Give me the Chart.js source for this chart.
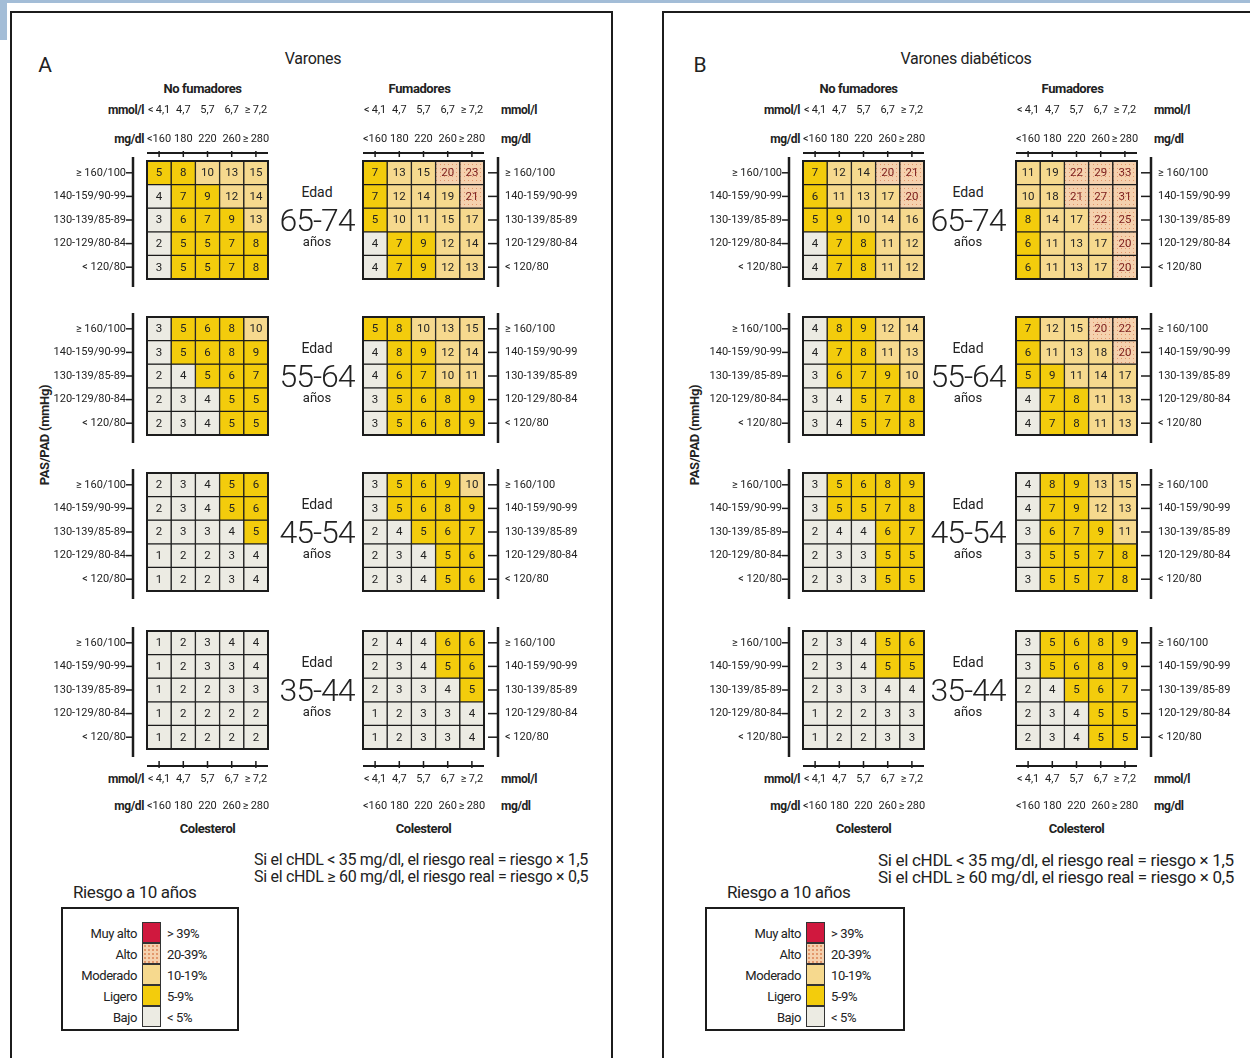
<!DOCTYPE html>
<html>
<head>
<meta charset="utf-8">
<script src="https://cdn.jsdelivr.net/npm/chart.js@4.4.0/dist/chart.umd.min.js"></script>
<style>
  body { margin: 0; width: 1250px; height: 1058px; overflow: hidden; position: relative; background: #fff;
         font-family: "Liberation Sans Narrow", Roboto, "Liberation Sans", sans-serif; color: #222; }
  .t { position: absolute; white-space: nowrap; line-height: 1; }
  .c { transform: translate(-50%, -50%); }
  .r { transform: translate(-100%, -50%); }
  .l { transform: translate(0, -50%); }
  canvas { position: absolute; }
  .frame { position: absolute; box-sizing: border-box; border: 2px solid #1c1c1c; border-bottom: none; }
  .box { position: absolute; box-sizing: border-box; border: 2px solid #1c1c1c; }
  .sw { position: absolute; box-sizing: border-box; border: 1px solid #333; }
</style>
</head>
<body>
<div style="position:absolute;left:0;top:0;width:1250px;height:3px;background:#a3bdd7"></div>
<div style="position:absolute;left:0;top:0;width:7px;height:40px;background:#a3bdd7"></div>
<div class="frame" style="left:10px;top:11px;width:603px;height:1100px"></div>
<div class="frame" style="left:662px;top:11px;width:700px;height:1100px"></div>

<script>
// ---- data ----
const ageGroups = ['65-74', '55-64', '45-54', '35-44'];
// blood pressure rows, top to bottom
const bpLabels = ['≥ 160/100', '140-159/90-99', '130-139/85-89', '120-129/80-84', '< 120/80'];
const cholMmol = ['<\u20094,1', '4,7', '5,7', '6,7', '≥\u20097,2'];
const cholMgdl = ['<160', '180', '220', '260', '≥\u2009280'];
const riskLevels = ['Muy alto', 'Alto', 'Moderado', 'Ligero', 'Bajo'];
const riskRanges = ['> 39%', '20-39%', '10-19%', '5-9%', '< 5%'];

// A - Varones, no fumadores (by age group, rows top to bottom)
const varonesNoFumadores = [
  [[5, 8, 10, 13, 15], [4, 7, 9, 12, 14], [3, 6, 7, 9, 13], [2, 5, 5, 7, 8], [3, 5, 5, 7, 8]],
  [[3, 5, 6, 8, 10], [3, 5, 6, 8, 9], [2, 4, 5, 6, 7], [2, 3, 4, 5, 5], [2, 3, 4, 5, 5]],
  [[2, 3, 4, 5, 6], [2, 3, 4, 5, 6], [2, 3, 3, 4, 5], [1, 2, 2, 3, 4], [1, 2, 2, 3, 4]],
  [[1, 2, 3, 4, 4], [1, 2, 3, 3, 4], [1, 2, 2, 3, 3], [1, 2, 2, 2, 2], [1, 2, 2, 2, 2]]
];
// A - Varones, fumadores
const varonesFumadores = [
  [[7, 13, 15, 20, 23], [7, 12, 14, 19, 21], [5, 10, 11, 15, 17], [4, 7, 9, 12, 14], [4, 7, 9, 12, 13]],
  [[5, 8, 10, 13, 15], [4, 8, 9, 12, 14], [4, 6, 7, 10, 11], [3, 5, 6, 8, 9], [3, 5, 6, 8, 9]],
  [[3, 5, 6, 9, 10], [3, 5, 6, 8, 9], [2, 4, 5, 6, 7], [2, 3, 4, 5, 6], [2, 3, 4, 5, 6]],
  [[2, 4, 4, 6, 6], [2, 3, 4, 5, 6], [2, 3, 3, 4, 5], [1, 2, 3, 3, 4], [1, 2, 3, 3, 4]]
];
// B - Varones diabéticos, no fumadores
const diabeticosNoFumadores = [
  [[7, 12, 14, 20, 21], [6, 11, 13, 17, 20], [5, 9, 10, 14, 16], [4, 7, 8, 11, 12], [4, 7, 8, 11, 12]],
  [[4, 8, 9, 12, 14], [4, 7, 8, 11, 13], [3, 6, 7, 9, 10], [3, 4, 5, 7, 8], [3, 4, 5, 7, 8]],
  [[3, 5, 6, 8, 9], [3, 5, 5, 7, 8], [2, 4, 4, 6, 7], [2, 3, 3, 5, 5], [2, 3, 3, 5, 5]],
  [[2, 3, 4, 5, 6], [2, 3, 4, 5, 5], [2, 3, 3, 4, 4], [1, 2, 2, 3, 3], [1, 2, 2, 3, 3]]
];
// B - Varones diabéticos, fumadores
const diabeticosFumadores = [
  [[11, 19, 22, 29, 33], [10, 18, 21, 27, 31], [8, 14, 17, 22, 25], [6, 11, 13, 17, 20], [6, 11, 13, 17, 20]],
  [[7, 12, 15, 20, 22], [6, 11, 13, 18, 20], [5, 9, 11, 14, 17], [4, 7, 8, 11, 13], [4, 7, 8, 11, 13]],
  [[4, 8, 9, 13, 15], [4, 7, 9, 12, 13], [3, 6, 7, 9, 11], [3, 5, 5, 7, 8], [3, 5, 5, 7, 8]],
  [[3, 5, 6, 8, 9], [3, 5, 6, 8, 9], [2, 4, 5, 6, 7], [2, 3, 4, 5, 5], [2, 3, 4, 5, 5]]
];

// ---- layout ----
const FONT = '"Liberation Sans Narrow", Roboto, "Liberation Sans", sans-serif';
const gridTops = [161, 317, 473, 631];
const GRID_W = 121, GRID_H = 118;
const AX = 100, PAD = 12, XH = 70;

// colours for the risk bands
const C_BAJO = '#ecebe3', C_LIGERO = '#f3cc0c', C_MOD = '#f6d98e', C_ALTO = '#f5d1ae', C_MUY = '#d0183e';

function altoPattern() {
  const p = document.createElement('canvas');
  p.width = 4; p.height = 4;
  const c = p.getContext('2d');
  c.fillStyle = C_ALTO; c.fillRect(0, 0, 4, 4);
  c.fillStyle = '#e2966a'; c.fillRect(1, 1, 1, 1);
  return c.createPattern(p, 'repeat');
}
const ALTO_FILL = altoPattern();

function colorFor(v) {
  if (v < 5) return C_BAJO;
  if (v < 10) return C_LIGERO;
  if (v < 20) return C_MOD;
  if (v < 40) return ALTO_FILL;
  return C_MUY;
}

function txt(s, x, y, cls, size, extra) {
  const d = document.createElement('div');
  d.className = 't ' + cls;
  d.textContent = s;
  d.style.left = x + 'px';
  d.style.top = y + 'px';
  d.style.fontSize = size + 'px';
  if (extra) Object.assign(d.style, extra);
  document.body.appendChild(d);
  return d;
}

function line(ctx, x1, y1, x2, y2) {
  ctx.beginPath(); ctx.moveTo(x1, y1); ctx.lineTo(x2, y2); ctx.stroke();
}

// draws cell values, grid frame and the axis lines with their ticks
const gridDecor = {
  id: 'gridDecor',
  afterDatasetsDraw(chart, args, opts) {
    const { ctx, chartArea: a, scales: { x, y } } = chart;
    ctx.save();
    ctx.font = '11.5px ' + FONT;
    ctx.textAlign = 'center';
    ctx.textBaseline = 'middle';
    chart.data.datasets.forEach((ds, di) => {
      chart.getDatasetMeta(di).data.forEach((bar, i) => {
        const v = ds.values[i];
        const p = bar.getCenterPoint();
        ctx.fillStyle = v >= 20 ? '#7a1c1c' : '#222';
        ctx.fillText(String(v), p.x, p.y + 0.5);
      });
    });
    ctx.strokeStyle = '#1c1c1c';
    ctx.lineWidth = 2;
    ctx.strokeRect(a.left, a.top, a.right - a.left, a.bottom - a.top);

    const lx = opts.side === 'left' ? a.left - 14 : a.right + 14;
    ctx.lineWidth = 2.5;
    line(ctx, lx, a.top - 4, lx, a.bottom + 8);
    ctx.lineWidth = 1.5;
    y.ticks.forEach(t => {
      const py = y.getPixelForValue(t.value);
      line(ctx, lx - (opts.side === 'left' ? 7 : 10), py, lx, py);
    });

    if (opts.xPos) {
      const top = opts.xPos === 'top';
      const ly = top ? a.top - 8 : a.bottom + 17;
      ctx.lineWidth = 2;
      line(ctx, a.left, ly, a.right, ly);
      ctx.lineWidth = 1.5;
      x.ticks.forEach((t, i) => {
        const px = x.getPixelForTick(i);
        line(ctx, px, ly + (top ? -2 : 2), px, ly + (top ? 4 : -5));
      });
    }
    ctx.restore();
  }
};

function buildGrid(values, gx, gy, side, xPos) {
  const canvas = document.createElement('canvas');
  canvas.width = AX + GRID_W + PAD;
  canvas.height = (xPos === 'top' ? XH : PAD) + GRID_H + (xPos === 'bottom' ? XH : PAD);
  canvas.style.left = (side === 'left' ? gx - AX : gx - PAD) + 'px';
  canvas.style.top = (xPos === 'top' ? gy - XH : gy - PAD) + 'px';
  document.body.appendChild(canvas);

  const datasets = values.map((row, r) => ({
    data: row.map(() => [4 - r, 5 - r]),
    values: row,
    backgroundColor: row.map(colorFor),
    borderColor: '#1c1c1c',
    borderWidth: 1,
    borderSkipped: false,
    grouped: false,
    barPercentage: 1,
    categoryPercentage: 1
  }));

  new Chart(canvas, {
    type: 'bar',
    data: { labels: cholMmol.map((m, i) => [m, cholMgdl[i]]), datasets },
    options: {
      responsive: false,
      animation: false,
      events: [],
      layout: {
        padding: {
          left: side === 'left' ? 0 : PAD,
          right: side === 'left' ? PAD : 0,
          top: xPos === 'top' ? 0 : PAD,
          bottom: xPos === 'bottom' ? 0 : PAD
        }
      },
      plugins: {
        legend: { display: false },
        tooltip: { enabled: false },
        gridDecor: { side, xPos }
      },
      scales: {
        x: {
          type: 'category',
          position: xPos || 'bottom',
          display: !!xPos,
          offset: true,
          grid: { display: false, drawTicks: false },
          border: { display: false },
          ticks: {
            autoSkip: false, maxRotation: 0,
            color: '#222',
            font: { family: FONT, size: 11, lineHeight: xPos === 'top' ? '29px' : '27px' },
            padding: xPos === 'top' ? 7 : 17
          },
          afterFit: s => {
            if (xPos) s.height = XH;
            s.paddingLeft = 0; s.paddingRight = 0;
          }
        },
        y: {
          type: 'linear',
          position: side,
          min: 0, max: 5,
          grid: { display: false, drawTicks: false },
          border: { display: false },
          afterBuildTicks: s => { s.ticks = [0.5, 1.5, 2.5, 3.5, 4.5].map(v => ({ value: v })); },
          ticks: {
            autoSkip: false,
            color: '#222',
            font: { family: FONT, size: 11 },
            padding: 21,
            callback: (v, i) => bpLabels[4 - i]
          },
          afterFit: s => {
            s.width = AX;
            s.paddingTop = 0; s.paddingBottom = 0;
          }
        }
      }
    },
    plugins: [gridDecor]
  });
}

const panels = [
  { letter: 'A', letterX: 45, title: 'Varones', titleX: 313, ageX: 317, pasX: 44,
    noFum: varonesNoFumadores, fum: varonesFumadores, leftX: 147, rightX: 363,
    noteX: 254, noteSize: 16, legendX: 61, legendW: 178, legendSwX: 142, titleLegX: 73 },
  { letter: 'B', letterX: 700, title: 'Varones diabéticos', titleX: 966, ageX: 968, pasX: 694,
    noFum: diabeticosNoFumadores, fum: diabeticosFumadores, leftX: 803, rightX: 1016,
    noteX: 878, noteSize: 17, legendX: 705, legendW: 200, legendSwX: 806, titleLegX: 727 }
];

panels.forEach(p => {
  txt(p.letter, p.letterX, 65, 'c', 21);
  txt(p.title, p.titleX, 59, 'c', 16, { letterSpacing: '-0.3px' });
  txt('No fumadores', p.leftX + GRID_W / 2 - 5, 88, 'c', 13, { fontWeight: 'bold', letterSpacing: '-0.4px' });
  txt('Fumadores', p.rightX + GRID_W / 2 - 4, 88, 'c', 13, { fontWeight: 'bold', letterSpacing: '-0.4px' });
  txt('PAS/PAD (mmHg)', p.pasX, 435, 'c', 13, { transform: 'translate(-50%,-50%) rotate(-90deg)', fontWeight: 'bold', letterSpacing: '-0.3px' });

  // cholesterol units
  const lUnit = p.leftX - 3, rUnit = p.rightX + GRID_W + 17;
  const bot = gridTops[3] + GRID_H;
  [[110, 'mmol/l'], [139, 'mg/dl'], [bot + 30, 'mmol/l'], [bot + 57, 'mg/dl']].forEach(([yy, u]) => {
    txt(u, lUnit, yy, 'r', 12, { fontWeight: 'bold', letterSpacing: '-0.4px' });
    txt(u, rUnit, yy, 'l', 12, { fontWeight: 'bold', letterSpacing: '-0.4px' });
  });
  txt('Colesterol', p.leftX + GRID_W / 2, bot + 79, 'c', 13, { fontWeight: 'bold', letterSpacing: '-0.4px' });
  txt('Colesterol', p.rightX + GRID_W / 2, bot + 79, 'c', 13, { fontWeight: 'bold', letterSpacing: '-0.4px' });

  ageGroups.forEach((age, k) => {
    const top = gridTops[k];
    const xPos = k === 0 ? 'top' : (k === 3 ? 'bottom' : null);
    buildGrid(p.noFum[k], p.leftX, top, 'left', xPos);
    buildGrid(p.fum[k], p.rightX, top, 'right', xPos);
    const mid = top + GRID_H / 2;
    txt('Edad', p.ageX, mid - 28, 'c', 14);
    txt(age, p.ageX, mid, 'c', 32, { letterSpacing: '-1px', fontWeight: 300 });
    txt('años', p.ageX, mid + 21, 'c', 13);
  });

  txt('Si el cHDL < 35 mg/dl, el riesgo real = riesgo × 1,5', p.noteX, 860, 'l', p.noteSize, { letterSpacing: '-0.3px' });
  txt('Si el cHDL ≥ 60 mg/dl, el riesgo real = riesgo × 0,5', p.noteX, 877, 'l', p.noteSize, { letterSpacing: '-0.3px' });

  // legend
  txt('Riesgo a 10 años', p.titleLegX, 892, 'l', 17, { letterSpacing: '-0.4px' });
  const box = document.createElement('div');
  box.className = 'box';
  Object.assign(box.style, { left: p.legendX + 'px', top: '907px', width: p.legendW + 'px', height: '124px' });
  document.body.appendChild(box);
  const swFills = [C_MUY, C_ALTO, C_MOD, C_LIGERO, C_BAJO];
  riskLevels.forEach((lev, i) => {
    const yy = 922 + i * 21;
    const sw = document.createElement('div');
    sw.className = 'sw';
    Object.assign(sw.style, { left: p.legendSwX + 'px', top: yy + 'px', width: '19px', height: '21px', background: swFills[i] });
    if (lev === 'Alto') sw.style.background = C_ALTO + ' radial-gradient(#e2966a 0.7px, transparent 1px) 0 0 / 4px 4px';
    document.body.appendChild(sw);
    txt(lev, p.legendSwX - 5, yy + 10.5, 'r', 13, { letterSpacing: '-0.4px' });
    txt(riskRanges[i], p.legendSwX + 25, yy + 10.5, 'l', 13, { letterSpacing: '-0.4px' });
  });
});
</script>
</body>
</html>
